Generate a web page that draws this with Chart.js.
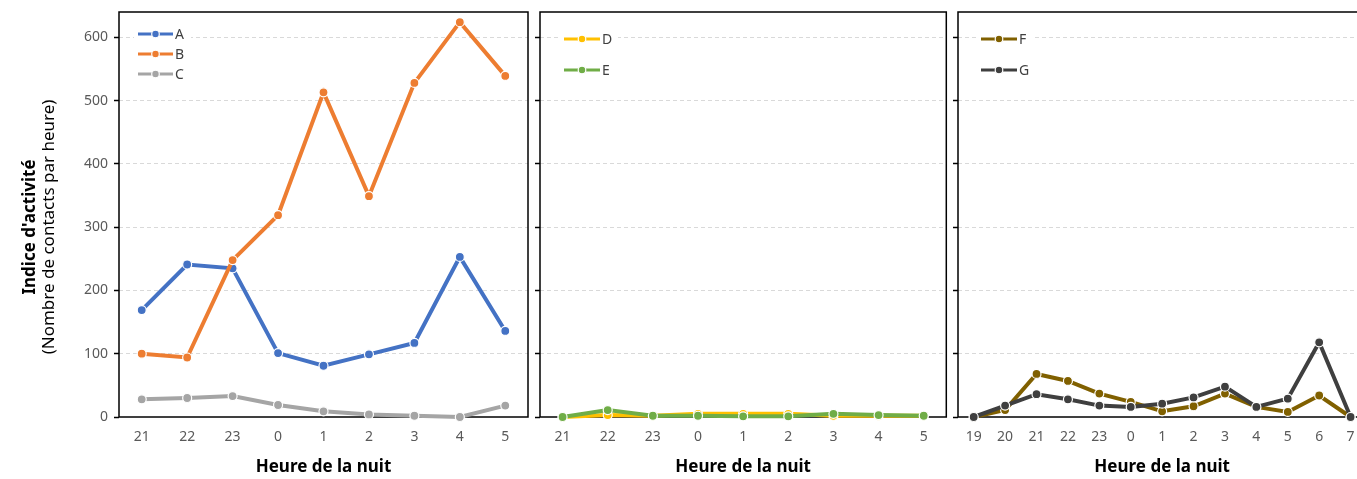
<!DOCTYPE html>
<html>
<head>
<meta charset="utf-8">
<script src="https://cdn.jsdelivr.net/npm/chart.js@4"></script>
<style>
  html, body { margin: 0; padding: 0; background: #fff; overflow: hidden; }
  body { width: 1357px; height: 479px; position: relative; }
  .panel { position: absolute; top: 0; height: 479px; }
</style>
</head>
<body>
<div class="panel" style="left:0;width:534px"><canvas id="p1"></canvas></div>
<div class="panel" style="left:530px;width:422px"><canvas id="p2"></canvas></div>
<div class="panel" style="left:948px;width:424px"><canvas id="p3"></canvas></div>
<script>
// heures
var heures1 = ["21", "22", "23", "0", "1", "2", "3", "4", "5"];
var heures3 = ["19", "20", "21", "22", "23", "0", "1", "2", "3", "4", "5", "6", "7"];

// contacts par heure
var serieA = [169, 241, 235, 101, 81, 99, 117, 253, 136];
var serieB = [100, 94, 248, 319, 513, 349, 528, 624, 539];
var serieC = [28, 30, 33, 19, 9, 4, 2, 0, 18];
var serieD = [0, 3, 2, 5, 5, 5, 2, 2, 2];
var serieE = [0, 11, 2, 2, 1, 1, 5, 3, 2];
var serieF = [0, 11, 68, 57, 37, 24, 9, 17, 37, 16, 8, 34, 0];
var serieG = [0, 18, 36, 28, 18, 16, 21, 31, 48, 16, 29, 118, 0];

var yTicks = [0, 100, 200, 300, 400, 500, 600];
var yMax = 640;

Chart.defaults.font.family = "'Noto Sans', 'Open Sans', sans-serif";
Chart.defaults.color = "#595959";

function serie(label, data, color, order) {
    return {
        label: label,
        data: data,
        borderColor: color,
        backgroundColor: color,
        borderWidth: 4,
        pointRadius: 4.5,
        pointHoverRadius: 4.5,
        pointBackgroundColor: color,
        pointBorderColor: "#fff",
        pointBorderWidth: 1.2,
        tension: 0,
        clip: false,
        order: order
    }
}

// cadre, legende et titres d'axes
var deco = {
    id: "deco",
    beforeDatasetsDraw: function(chart) {
        var a = chart.chartArea, c = chart.ctx;
        c.save();
        c.strokeStyle = "#000";
        c.lineWidth = 1.5;
        c.strokeRect(a.left, a.top, a.right - a.left, a.bottom - a.top);
        c.restore();
    },
    afterDraw: function(chart, args, o) {
        var a = chart.chartArea, c = chart.ctx;
        var ds = chart.data.datasets;
        c.save();
        // legende
        var x0 = a.left + o.lx, x1 = x0 + o.lw;
        c.fillStyle = "#fff";
        c.fillRect(x0 - 4, o.ly - 12, o.lw + 22, (ds.length - 1) * o.lgap + 24);
        ds.forEach(function(d, i) {
            var y = o.ly + i * o.lgap;
            c.strokeStyle = d.borderColor;
            c.lineWidth = 3.2;
            c.beginPath();
            c.moveTo(x0, y);
            c.lineTo(x1, y);
            c.stroke();
            c.beginPath();
            c.arc((x0 + x1) / 2, y, 3.8, 0, Math.PI * 2);
            c.fillStyle = d.borderColor;
            c.fill();
            c.strokeStyle = "#fff";
            c.lineWidth = 1.2;
            c.stroke();
            c.fillStyle = "#404040";
            c.font = "14px 'Noto Sans'";
            c.textAlign = "left";
            c.textBaseline = "middle";
            c.fillText(d.label, x1 + 2, y + 1);
        });
        // titre axe x
        c.fillStyle = "#000";
        c.font = "bold 17px 'Noto Sans'";
        c.textAlign = "center";
        c.textBaseline = "middle";
        c.fillText("Heure de la nuit", (a.left + a.right) / 2, 467);
        // titre axe y
        if (o.yTitle) {
            c.translate(30, 227);
            c.rotate(-Math.PI / 2);
            c.fillText("Indice d'activité", 0, 0);
            c.font = "17px 'Noto Sans'";
            c.fillText("(Nombre de contacts par heure)", 0, 19);
        }
        c.restore();
    }
};

function options(yWidth, padRight, showY, leg) {
    return {
        responsive: true,
        maintainAspectRatio: false,
        animation: false,
        events: [],
        layout: { padding: { top: 12, right: padRight, left: 0, bottom: 0 } },
        scales: {
            x: {
                offset: true,
                grid: { display: false, drawTicks: false },
                border: { display: false },
                ticks: { padding: 12, font: { size: 14 }, color: "#595959" },
                afterFit: function(s) { s.height = 62; }
            },
            y: {
                min: 0,
                max: yMax,
                afterBuildTicks: function(s) {
                    s.ticks = yTicks.map(function(v) { return { value: v }; });
                },
                grid: {
                    color: function(ctx) { return ctx.tick && ctx.tick.value === 0 ? "rgba(0,0,0,0)" : "#d9d9d9"; },
                    lineWidth: 1,
                    tickColor: "#000",
                    tickLength: 5,
                    tickWidth: 1.5
                },
                border: { display: false, dash: [4, 3] },
                ticks: { display: showY, padding: 6, font: { size: 14 }, color: "#595959" },
                afterFit: function(s) {
                    s.width = yWidth;
                    s.paddingTop = 0;
                    s.paddingBottom = 0;
                }
            }
        },
        plugins: {
            legend: { display: false },
            tooltip: { enabled: false },
            deco: leg
        }
    }
}

new Chart(document.getElementById("p1"), {
    type: "line",
    data: {
        labels: heures1,
        datasets: [
            serie("A", serieA, "#4472c4", 3),
            serie("B", serieB, "#ed7d31", 2),
            serie("C", serieC, "#a5a5a5", 1)
        ]
    },
    options: options(119, 6, true, { lx: 19, lw: 35, ly: 34, lgap: 20, yTitle: true }),
    plugins: [deco]
});

new Chart(document.getElementById("p2"), {
    type: "line",
    data: {
        labels: heures1,
        datasets: [
            serie("D", serieD, "#ffc000", 2),
            serie("E", serieE, "#70ad47", 1)
        ]
    },
    options: options(10, 4, false, { lx: 24, lw: 36, ly: 39, lgap: 31 }),
    plugins: [deco]
});

new Chart(document.getElementById("p3"), {
    type: "line",
    data: {
        labels: heures3,
        datasets: [
            serie("F", serieF, "#806000", 2),
            serie("G", serieG, "#3f3f3f", 1)
        ]
    },
    options: options(10, 2, false, { lx: 23, lw: 36, ly: 39, lgap: 31 }),
    plugins: [deco]
});
</script>
</body>
</html>
